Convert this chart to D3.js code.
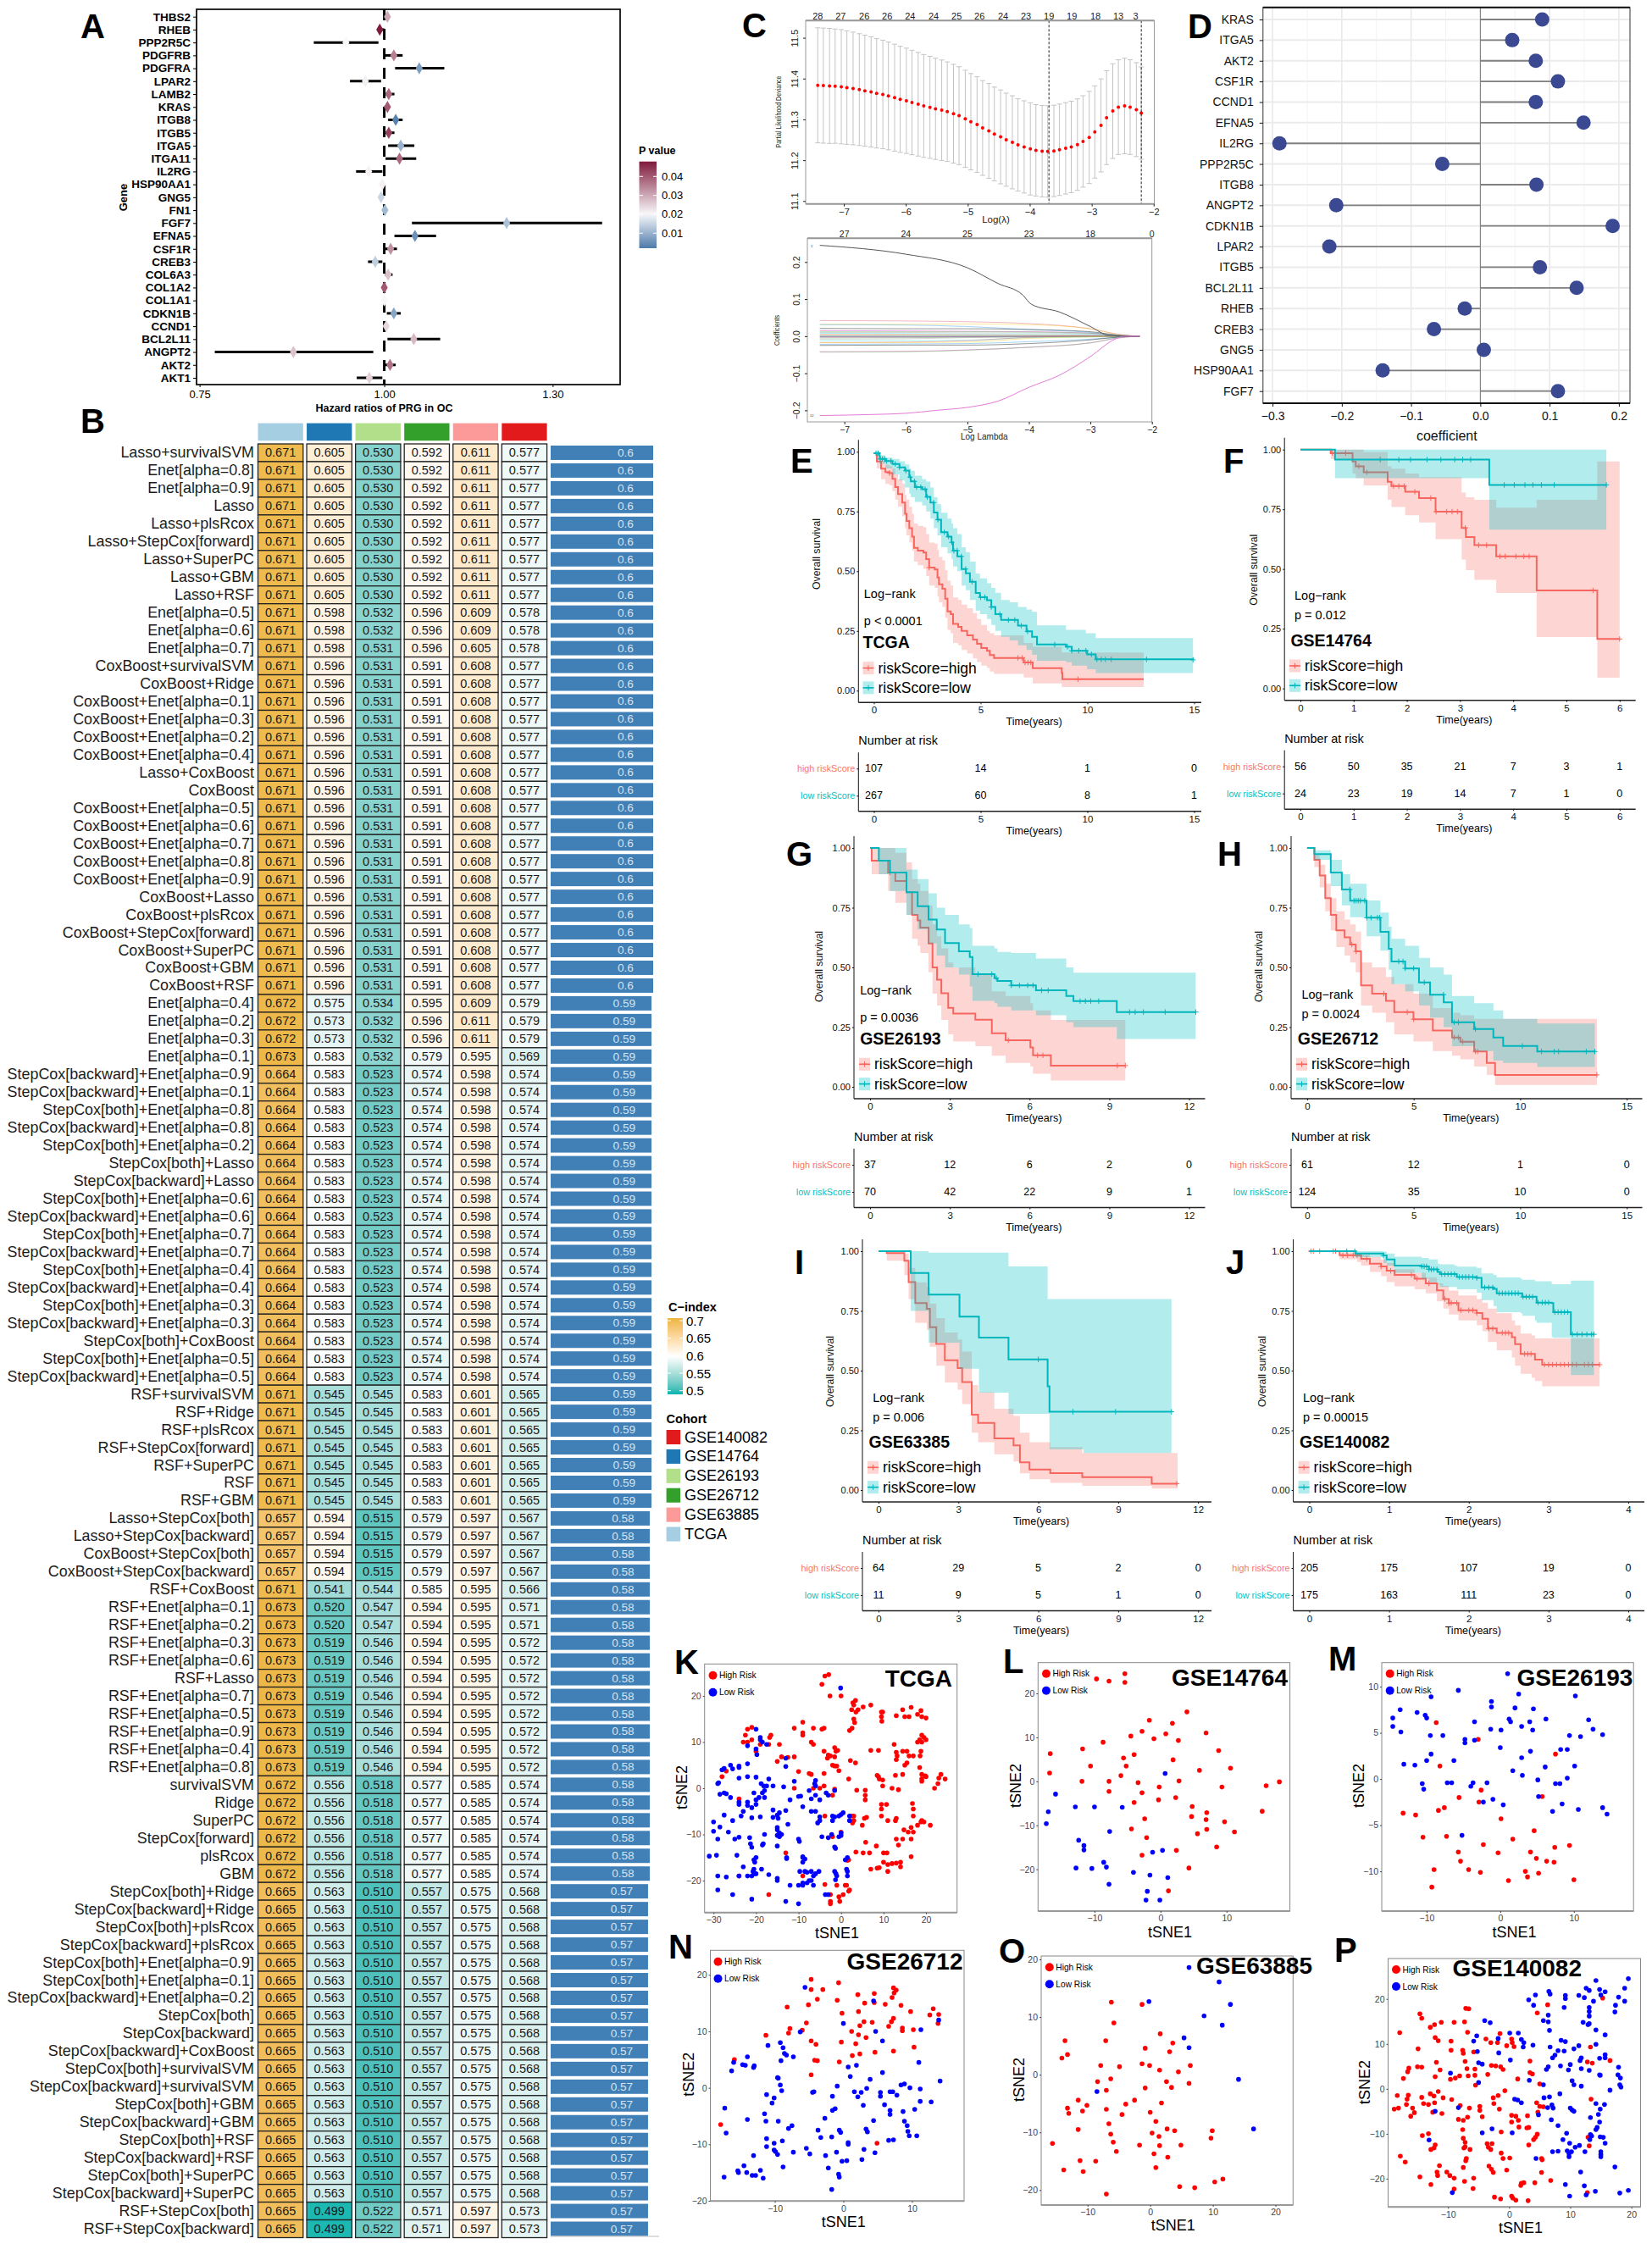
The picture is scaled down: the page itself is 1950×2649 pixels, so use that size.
<!DOCTYPE html>
<html>
<head>
<meta charset="utf-8">
<script src="https://cdn.jsdelivr.net/npm/d3@7"></script>
<style>body{margin:0;background:#fff}</style>
</head>
<body>
<svg id="fig" width="1950" height="2649"></svg>
<script>
// ---------- panel A ----------
const hrGenes = ["THBS2","RHEB","PPP2R5C","PDGFRB","PDGFRA","LPAR2","LAMB2","KRAS","ITGB8","ITGB5","ITGA5","ITGA11","IL2RG","HSP90AA1","GNG5","FN1","FGF7","EFNA5","CSF1R","CREB3","COL6A3","COL1A2","COL1A1","CDKN1B","CCND1","BCL2L11","ANGPT2","AKT2","AKT1"];
const hrMid = [1.005,.993,.942,1.015,1.056,.971,1.007,1.005,1.018,1.007,1.026,1.024,.976,.997,.995,1.001,1.21,1.049,1.01,.986,1.006,1.0,1.0,1.015,1.003,1.047,.868,1.009,.977];
const hrLow = [1.004,.99,.896,1.001,1.017,.948,1.001,1.0,1.006,1.001,1.006,1.002,.957,.996,.994,1.0,1.044,1.016,1.001,.975,1.001,.999,.999,1.004,1.002,1.005,.768,1.001,.958];
const hrHigh = [1.006,1.0,.991,1.029,1.098,.995,1.016,1.009,1.029,1.016,1.048,1.051,.997,.998,.996,1.002,1.404,1.084,1.02,.997,1.013,1.001,1.001,1.026,1.004,1.091,.983,1.018,.997];
const hrP = [.03,.048,.02,.035,.007,.019,.038,.04,.003,.043,.01,.038,.021,.021,.015,.011,.012,.005,.033,.014,.027,.04,.02,.008,.024,.028,.027,.037,.025];

// ---------- panel B ----------
const models = ["Lasso+survivalSVM","Enet[alpha=0.8]","Enet[alpha=0.9]","Lasso","Lasso+plsRcox","Lasso+StepCox[forward]","Lasso+SuperPC","Lasso+GBM","Lasso+RSF","Enet[alpha=0.5]","Enet[alpha=0.6]","Enet[alpha=0.7]","CoxBoost+survivalSVM","CoxBoost+Ridge","CoxBoost+Enet[alpha=0.1]","CoxBoost+Enet[alpha=0.3]","CoxBoost+Enet[alpha=0.2]","CoxBoost+Enet[alpha=0.4]","Lasso+CoxBoost","CoxBoost","CoxBoost+Enet[alpha=0.5]","CoxBoost+Enet[alpha=0.6]","CoxBoost+Enet[alpha=0.7]","CoxBoost+Enet[alpha=0.8]","CoxBoost+Enet[alpha=0.9]","CoxBoost+Lasso","CoxBoost+plsRcox","CoxBoost+StepCox[forward]","CoxBoost+SuperPC","CoxBoost+GBM","CoxBoost+RSF","Enet[alpha=0.4]","Enet[alpha=0.2]","Enet[alpha=0.3]","Enet[alpha=0.1]","StepCox[backward]+Enet[alpha=0.9]","StepCox[backward]+Enet[alpha=0.1]","StepCox[both]+Enet[alpha=0.8]","StepCox[backward]+Enet[alpha=0.8]","StepCox[both]+Enet[alpha=0.2]","StepCox[both]+Lasso","StepCox[backward]+Lasso","StepCox[both]+Enet[alpha=0.6]","StepCox[backward]+Enet[alpha=0.6]","StepCox[both]+Enet[alpha=0.7]","StepCox[backward]+Enet[alpha=0.7]","StepCox[both]+Enet[alpha=0.4]","StepCox[backward]+Enet[alpha=0.4]","StepCox[both]+Enet[alpha=0.3]","StepCox[backward]+Enet[alpha=0.3]","StepCox[both]+CoxBoost","StepCox[both]+Enet[alpha=0.5]","StepCox[backward]+Enet[alpha=0.5]","RSF+survivalSVM","RSF+Ridge","RSF+plsRcox","RSF+StepCox[forward]","RSF+SuperPC","RSF","RSF+GBM","Lasso+StepCox[both]","Lasso+StepCox[backward]","CoxBoost+StepCox[both]","CoxBoost+StepCox[backward]","RSF+CoxBoost","RSF+Enet[alpha=0.1]","RSF+Enet[alpha=0.2]","RSF+Enet[alpha=0.3]","RSF+Enet[alpha=0.6]","RSF+Lasso","RSF+Enet[alpha=0.7]","RSF+Enet[alpha=0.5]","RSF+Enet[alpha=0.9]","RSF+Enet[alpha=0.4]","RSF+Enet[alpha=0.8]","survivalSVM","Ridge","SuperPC","StepCox[forward]","plsRcox","GBM","StepCox[both]+Ridge","StepCox[backward]+Ridge","StepCox[both]+plsRcox","StepCox[backward]+plsRcox","StepCox[both]+Enet[alpha=0.9]","StepCox[both]+Enet[alpha=0.1]","StepCox[backward]+Enet[alpha=0.2]","StepCox[both]","StepCox[backward]","StepCox[backward]+CoxBoost","StepCox[both]+survivalSVM","StepCox[backward]+survivalSVM","StepCox[both]+GBM","StepCox[backward]+GBM","StepCox[both]+RSF","StepCox[backward]+RSF","StepCox[both]+SuperPC","StepCox[backward]+SuperPC","RSF+StepCox[both]","RSF+StepCox[backward]"];
// models come in tied blocks, rowsPerBlock says how many rows share the values
const rowsPerBlock = [9,2,1,19,1,2,1,18,7,4,1,2,8,6,18,2];
const cTCGA =  [.671,.671,.671,.671,.672,.672,.673,.664,.671,.657,.671,.673,.673,.672,.665,.665];
const c14764 = [.605,.598,.598,.596,.575,.573,.583,.583,.545,.594,.541,.520,.519,.556,.563,.499];
const c26193 = [.530,.532,.531,.531,.534,.532,.532,.523,.545,.515,.544,.547,.546,.518,.510,.522];
const c26712 = [.592,.596,.596,.591,.595,.596,.579,.574,.583,.579,.585,.594,.594,.577,.557,.571];
const c63885 = [.611,.609,.605,.608,.609,.611,.595,.598,.601,.597,.595,.595,.595,.585,.575,.597];
const c140082 =[.577,.578,.578,.577,.579,.579,.569,.574,.565,.567,.566,.571,.572,.574,.568,.573];
const cMean =  [.60,.60,.60,.60,.59,.59,.59,.59,.59,.58,.58,.58,.58,.58,.57,.57];
const heatCols = ["TCGA","GSE14764","GSE26193","GSE26712","GSE63885","GSE140082"];
const heatColors = ["#a6cee3","#1f78b4","#b2df8a","#33a02c","#fb9a99","#e31a1c"];
const cohortOrder = ["GSE140082","GSE14764","GSE26193","GSE26712","GSE63885","TCGA"];
const cLegendTicks = [.5,.55,.6,.65,.7];

// ---------- panel C ----------
const cvLambda = [-7.42,-7.33,-7.23,-7.14,-7.04,-6.95,-6.85,-6.75,-6.66,-6.56,-6.47,-6.37,-6.28,-6.18,-6.09,-5.99,-5.9,-5.8,-5.71,-5.61,-5.52,-5.42,-5.33,-5.23,-5.14,-5.04,-4.95,-4.85,-4.76,-4.66,-4.57,-4.47,-4.38,-4.28,-4.19,-4.09,-3.99,-3.9,-3.8,-3.71,-3.61,-3.52,-3.42,-3.33,-3.23,-3.14,-3.04,-2.95,-2.85,-2.76,-2.66,-2.57,-2.47,-2.38,-2.28,-2.2];
const cvMean = [11.3835,11.3828,11.3821,11.3814,11.38,11.3779,11.3758,11.373,11.3702,11.3674,11.3639,11.3611,11.3575,11.3533,11.3491,11.3456,11.3414,11.3372,11.333,11.3295,11.326,11.3225,11.3189,11.314,11.3091,11.3014,11.2944,11.2874,11.2789,11.2719,11.2642,11.2572,11.2502,11.2439,11.2375,11.2326,11.2277,11.2242,11.2221,11.2214,11.2228,11.2256,11.2291,11.2326,11.2382,11.246,11.2558,11.2691,11.2853,11.3042,11.3204,11.3302,11.333,11.3302,11.3239,11.3154];
const cvSd = [.141,.141,.141,.14,.14,.139,.138,.137,.136,.135,.134,.133,.132,.131,.13,.129,.128,.127,.126,.125,.124,.123,.122,.121,.12,.119,.118,.117,.116,.116,.115,.115,.114,.114,.113,.113,.113,.112,.112,.112,.112,.112,.112,.112,.112,.112,.113,.113,.114,.115,.116,.116,.117,.116,.115,.113];
const cvTopAt = [-7.42,-7.05,-6.67,-6.3,-5.93,-5.55,-5.18,-4.81,-4.43,-4.06,-3.69,-3.32,-2.94,-2.57,-2.29];
const cvTopN = [28,27,26,26,24,24,25,26,24,23,19,19,18,13,3];
const cvLines = [-3.69,-2.2];

const pathTopAt = [-7,-6,-5,-4,-3,-2];
const pathTopN = [27,24,25,23,18,0];
const bigPathLam = [-7.4,-6,-5,-4.5,-4.1,-3.96,-3.5,-3,-2.7,-2.4,-2.2];
const bigPathVal = [.245,.221,.1845,.142,.111,.086,.065,.026,.002,0,0];
const negPathLam = [-7.4,-6.5,-6,-5.5,-5,-4.5,-4,-3.5,-3,-2.6,-2.45,-2.2];
const negPathVal = [-.214,-.211,-.208,-.2,-.192,-.175,-.138,-.105,-.055,-.008,0,0];
const bundleLam = [-7.4,-6,-5,-4,-3,-2.5,-2.2];
const bundleVals = [
  [.042,.041,.039,.034,.02,.004,0],[.032,.032,.033,.031,.02,.003,0],[.031,.03,.026,.018,.01,.002,0],
  [.021,.02,.02,.018,.012,.002,0],[.015,.014,.013,.012,.008,.002,0],[.012,.012,.012,.011,.008,.002,0],
  [.01,.01,.009,.009,.006,.002,0],[.008,.007,.006,.006,.005,.001,0],[.005,.005,.004,.003,.002,.001,0],
  [.003,.003,.002,.002,.001,0,0],[.001,.001,.001,.001,0,0,0],[-.001,-.001,-.001,-.001,0,0,0],
  [-.003,-.003,-.002,-.001,-.001,0,0],[-.005,-.004,-.003,-.002,-.001,0,0],[-.008,-.007,-.004,-.002,-.001,0,0],
  [-.012,-.012,-.011,-.004,-.002,0,0],[-.017,-.016,-.012,-.003,0,0,0],[-.018,-.017,-.016,-.006,-.002,0,0],
  [-.022,-.021,-.02,-.015,-.008,-.002,0],[-.025,-.024,-.024,-.02,-.01,-.002,0],[-.042,-.041,-.037,-.03,-.018,-.004,0],
  [-.043,-.042,-.038,-.03,-.018,-.003,0]];
const rPalette = ["#000000","#df536b","#61d04f","#2297e6","#28e2e5","#cd0bbc","#f5c710","#9e9e9e"];

// ---------- panel D ----------
const coefGenes = ["KRAS","ITGA5","AKT2","CSF1R","CCND1","EFNA5","IL2RG","PPP2R5C","ITGB8","ANGPT2","CDKN1B","LPAR2","ITGB5","BCL2L11","RHEB","CREB3","GNG5","HSP90AA1","FGF7"];
const coefVals = [.0893,.046,.08,.112,.08,.149,-.29,-.055,.081,-.208,.191,-.218,.086,.139,-.0225,-.067,.005,-.141,.112];

// ---------- panels E-J, survival curves ----------
const eHighT = [0,.14,.34,.54,.73,.87,1,1.13,1.33,1.46,1.53,1.66,1.79,1.88,2.06,2.32,2.45,2.59,2.85,2.98,3.05,3.21,3.34,3.45,3.6,3.71,3.95,4.11,4.37,4.64,4.83,5.03,5.3,5.43,5.63,6.95,7.02,7.41,7.44,8.54,8.8,8.83,12.64];
const eHighS = [.994,.959,.929,.915,.911,.887,.852,.823,.787,.74,.71,.68,.645,.598,.586,.578,.551,.515,.507,.474,.445,.427,.385,.332,.32,.279,.267,.25,.232,.214,.196,.178,.167,.149,.137,.137,.118,.118,.094,.094,.075,.048,.048];
const eHighHi = [.994,.985,.96,.945,.94,.93,.905,.885,.865,.82,.8,.77,.74,.7,.69,.685,.655,.62,.615,.59,.56,.545,.505,.46,.44,.39,.38,.36,.345,.325,.3,.275,.25,.24,.232,.232,.2,.2,.184,.184,.16,.16,.16];
const eHighLo = [.99,.93,.885,.865,.86,.835,.8,.77,.73,.68,.65,.62,.585,.54,.525,.51,.48,.44,.43,.395,.37,.35,.305,.255,.24,.2,.19,.17,.155,.135,.12,.105,.095,.08,.07,.07,.055,.055,.03,.03,.015,.015,.015];
const eHighC = [.73,2.59,6.75,6.95,7.08,7.22,7.35,9.56];
const eLowT = [0,.27,.54,.87,1.2,1.46,1.66,1.73,1.92,2.26,2.45,2.65,2.81,2.98,3.15,3.45,3.64,3.71,3.91,4.11,4.31,4.5,4.77,4.97,5.3,5.5,5.69,5.96,6.36,6.75,7.15,7.41,7.64,8.47,9,9.27,9.93,9.99,10.39,14.95];
const eLowS = [.994,.97,.961,.949,.935,.921,.894,.876,.852,.843,.811,.787,.746,.716,.663,.645,.621,.586,.562,.509,.491,.456,.409,.391,.379,.35,.32,.296,.296,.272,.248,.225,.193,.193,.184,.167,.167,.152,.131,.129];
const eLowHi = [.994,.985,.975,.97,.96,.947,.93,.92,.9,.885,.875,.85,.81,.78,.745,.72,.7,.68,.655,.6,.58,.54,.49,.47,.45,.43,.41,.38,.37,.35,.34,.33,.273,.273,.255,.255,.24,.24,.22,.22];
const eLowLo = [.99,.95,.93,.905,.88,.85,.825,.81,.79,.775,.75,.72,.68,.65,.6,.575,.55,.52,.5,.44,.42,.38,.335,.32,.3,.275,.25,.225,.21,.19,.17,.15,.125,.125,.119,.105,.105,.09,.074,.074];
const eLowC = [.1,.2,.3,.4,.5,.6,.8,1,1.2,1.5,1.7,1.9,2,2.2,2.4,2.5,2.8,3,3.3,3.5,3.65,3.75,3.9,4.1,4.3,4.6,5,5.2,5.5,5.9,6.3,6.6,6.9,7.2,8.47,9.07,9.27,9.6,9.93,10.19,10.45,10.65,10.85,11.12,12.77,14.95];

const fHighT = [0,.57,.98,1.04,1.19,1.64,1.71,1.97,2.23,2.54,3.03,3.11,3.27,3.68,4.44,5.58,6];
const fHighS = [1,.985,.95,.93,.905,.865,.847,.823,.797,.74,.672,.634,.6,.553,.41,.207,.207];
const fHighHi = [1,1,1,1,.99,.93,.92,.9,.885,.885,.82,.8,.79,.757,.79,.95,.95];
const fHighLo = [1,.96,.9,.88,.85,.79,.76,.725,.695,.625,.54,.495,.455,.4,.215,.045,.045];
const fHighC = [.6,.85,1.1,1.25,1.75,1.85,1.95,2.15,2.45,2.55,2.75,2.85,2.95,3.1,3.35,3.5,3.75,3.85,4.05,4.2,4.3,5.5,6];
const fLowT = [0,.65,3.55,5.75];
const fLowS = [1,.958,.852,.852];
const fLowHi = [1,1,1,1];
const fLowLo = [1,.88,.665,.665];
const fLowC = [1.5,1.85,2.07,2.38,2.64,2.9,3.05,3.2,3.83,4.02,4.22,4.37,4.53,4.77,5.75];

const gHighT = [0,.06,.68,.95,1.37,1.58,1.79,1.89,2.2,2.35,2.52,2.68,2.94,3.13,3.96,4.58,5.1,6.03,6.13,6.8,9.6];
const gHighS = [1,.947,.897,.862,.815,.72,.697,.667,.6,.5,.449,.392,.331,.307,.281,.224,.195,.165,.132,.089,.089];
const gHighHi = [1,1,1,.98,.94,.87,.85,.82,.76,.68,.63,.58,.52,.5,.47,.4,.38,.35,.32,.28,.28];
const gHighLo = [1,.89,.82,.77,.72,.62,.59,.56,.48,.39,.34,.28,.22,.19,.17,.13,.1,.085,.055,.027,.027];
const gHighC = [.75,5.2,6.3,6.5,9.3,9.6];
const gLowT = [0,.33,.75,1.37,1.79,2.2,2.51,2.82,3.34,3.75,3.85,4.68,4.79,5.31,6.24,7.38,7.65,9.28,12.25];
const gLowS = [1,.947,.897,.815,.756,.7,.659,.602,.567,.543,.472,.455,.443,.425,.404,.38,.359,.313,.313];
const gLowHi = [1,1,1,.91,.87,.81,.75,.72,.68,.665,.59,.58,.565,.56,.537,.5,.478,.478,.478];
const gLowLo = [1,.89,.82,.72,.66,.6,.55,.5,.47,.42,.36,.35,.335,.32,.3,.27,.25,.2,.2];
const gLowC = [4.06,4.58,4.75,5.31,5.62,5.93,6.13,6.45,6.7,7.9,8.1,8.3,8.6,9.76,9.97,10.28,11.1,12.25];

const hHighT = [0,.34,.59,.85,1.11,1.37,1.76,2.02,2.28,2.53,3.05,3.7,4.09,4.99,5.9,6.8,7.19,7.84,8.43,8.82,13.6];
const hHighS = [1,.95,.885,.79,.72,.655,.626,.596,.567,.425,.39,.36,.313,.283,.236,.207,.189,.148,.1,.05,.05];
const hHighHi = [1,.97,.93,.85,.79,.735,.7,.68,.65,.52,.5,.46,.43,.39,.33,.31,.3,.285,.285,.285,.285];
const hHighLo = [1,.92,.835,.735,.655,.585,.55,.52,.48,.34,.31,.27,.22,.19,.15,.13,.115,.085,.05,.008,.008];
const hHighC = [2.1,2.3,3.6,4.7,5,6.9,7.1,7.3,7.9,8,13.6];
const hLowT = [0,.34,1.11,1.63,2.02,2.79,3.44,3.83,3.96,4.6,5.25,5.77,6.41,6.8,7.84,8.74,9.2,10.8,13.5];
const hLowS = [1,.974,.897,.826,.779,.708,.649,.578,.525,.496,.437,.386,.354,.27,.242,.207,.171,.148,.148];
const hLowHi = [1,.99,.95,.89,.85,.78,.73,.67,.62,.59,.54,.5,.47,.38,.35,.32,.285,.265,.265];
const hLowLo = [1,.95,.84,.76,.71,.63,.57,.49,.43,.4,.34,.29,.25,.17,.15,.11,.1,.083,.083];
const hLowC = [2,2.2,2.3,2.4,2.5,2.7,2.8,3,3.3,3.4,4.3,4.5,4.6,5,5.5,6.4,6.9,7.1,7.9,10.1,11,11.6,11.8,13.1,13.5];

const iHighT = [0,.31,.97,1.13,1.38,1.81,1.93,2.17,2.49,2.97,3.14,3.5,3.74,4.35,5.07,5.31,5.67,6.45,7.65,10.26,11.23];
const iHighS = [1,.992,.96,.871,.783,.759,.682,.612,.543,.511,.452,.316,.281,.216,.187,.116,.086,.071,.054,.027,.027];
const iHighHi = [1,1,.99,.93,.87,.85,.78,.72,.66,.63,.58,.44,.41,.34,.31,.24,.2,.18,.155,.155,.155];
const iHighLo = [1,.96,.9,.8,.7,.67,.6,.52,.45,.42,.36,.24,.2,.15,.12,.07,.045,.03,.018,.006,.006];
const iHighC = [11.2];
const iLowT = [0,1.21,1.88,3.04,3.77,4.88,6.35,6.42,7.7,11];
const iLowS = [1,.909,.818,.726,.638,.547,.434,.328,.328,.328];
const iLowHi = [1,1,.994,.994,.994,.936,.8,.8,.8,.8];
const iLowLo = [1,.75,.617,.508,.408,.319,.319,.17,.155,.137];
const iLowC = [6,7.3,8.9,11];

const jHighT = [0,.33,.38,.6,.65,.76,.9,.97,1.07,1.32,1.46,1.6,1.68,1.75,1.87,2.1,2.17,2.24,2.35,2.54,2.58,2.65,2.79,2.83,2.9,2.92,3.64];
const jHighS = [1,1,.983,.983,.968,.948,.936,.918,.901,.885,.865,.836,.8,.783,.753,.741,.717,.676,.658,.64,.611,.57,.57,.546,.546,.525,.525];
const jHighHi = [1,1,.995,.99,.985,.975,.965,.95,.925,.91,.89,.865,.855,.835,.815,.8,.785,.76,.74,.71,.69,.655,.647,.635,.635,.635,.635];
const jHighLo = [1,1,.966,.955,.94,.913,.895,.871,.853,.84,.824,.79,.76,.735,.71,.69,.665,.62,.585,.555,.52,.487,.47,.457,.457,.434,.434];
const jHighC = [.02,.05,.13,.3,.33,.42,.48,.55,.6,.72,.9,1.02,1.28,1.35,1.5,1.7,1.75,1.78,1.85,1.9,2,2.05,2.1,2.25,2.3,2.42,2.46,2.5,2.7,2.74,2.78,2.95,3,3.05,3.1,3.15,3.2,3.25,3.3,3.35,3.45,3.5,3.55,3.64];
const jLowT = [0,.47,.58,.93,.97,1.07,1.41,1.5,1.61,1.64,1.82,1.85,2.1,2.16,2.31,2.35,2.65,2.67,2.83,2.85,3.04,3.06,3.27,3.28,3.57];
const jLowS = [1,1,.99,.982,.965,.94,.936,.924,.913,.904,.904,.892,.888,.848,.842,.824,.824,.809,.809,.785,.783,.745,.745,.652,.652];
const jLowHi = [1,1,1,.998,.99,.977,.972,.965,.948,.945,.94,.935,.93,.907,.9,.89,.885,.88,.874,.874,.862,.862,.862,.877,.877];
const jLowLo = [1,1,.975,.95,.94,.91,.885,.87,.859,.85,.85,.84,.826,.795,.77,.745,.74,.73,.71,.7,.64,.637,.637,.481,.481];
const jLowC = [.47,.57,.93,1.41,1.44,1.47,1.5,1.53,1.56,1.6,1.66,1.7,1.74,1.78,1.82,1.88,1.92,1.96,2,2.05,2.1,2.2,2.25,2.3,2.38,2.42,2.46,2.5,2.54,2.58,2.62,2.68,2.72,2.76,2.8,2.87,2.92,2.96,3,3.08,3.12,3.16,3.2,3.24,3.3,3.36,3.42,3.48,3.54,3.57];

// number at risk
const eRiskHigh = [107,14,1,0], eRiskLow = [267,60,8,1];
const fRiskHigh = [56,50,35,21,7,3,1], fRiskLow = [24,23,19,14,7,1,0];
const gRiskHigh = [37,12,6,2,0], gRiskLow = [70,42,22,9,1];
const hRiskHigh = [61,12,1,0], hRiskLow = [124,35,10,0];
const iRiskHigh = [64,29,5,2,0], iRiskLow = [11,9,5,1,0];
const jRiskHigh = [205,175,107,19,0], jRiskLow = [175,163,111,23,0];
const survTicks = [0,.25,.5,.75,1];

// ---------- panels K-P, tSNE ----------
const kHigh = [[-3.8,24.3],[-2.9,24.6],[-4.5,22.5],[-2.6,20],[0,20],[2.8,18.5],[3.4,19],[3,18],[5.2,17.6],[7,18],[2.5,17],[3.5,16.5],[4,17],[3,15],[9.5,16.5],[9.8,16.5],[9.5,15.5],[9.6,14.5],[13,15.7],[14.5,17],[15,15.5],[16,15.5],[16.5,17.5],[18,16],[18.8,16.8],[19,15.5],[20,15.2],[3.2,14.2],[2.6,13],[2,12.5],[-11,13],[-9,14.3],[-9,12],[-9,11.5],[-6.5,13],[-4.5,12.8],[-4,13],[-22,12.8],[-21,13.2],[-22.5,11.5],[-22,10],[-21,10.5],[-23,10],[-16.5,11.5],[-16.8,11],[-19,9.5],[-17,9.5],[-14.5,9.5],[-7,10],[-6.5,9.5],[18.5,10.5],[19,11.5],[19.5,11],[19,10],[20,10.5],[18,10],[12.5,9.5],[-20,8],[-14,6.8],[-12.5,6.7],[-11,6.8],[-4,8],[-3,7.2],[-2.5,7],[-1.5,8.8],[-1.2,8],[-.8,8.2],[-1.5,6.8],[-3.2,6.5],[7,8.2],[8.8,8.2],[13,7.8],[14.5,8],[15.5,8],[18.8,8],[13.2,7],[16,7],[17,7],[18.6,7],[13,6.2],[15.5,5.5],[15,5],[2.2,6],[3.4,5.5],[-15,5.8],[-10,3.6],[-7.5,3.2],[-7,3],[-4,3.2],[-2,5],[-1.5,4.8],[-1,4.8],[-.5,3.8],[1.8,2],[8.5,2.8],[8.8,2.5],[9,2],[9.8,1.8],[12.8,2.8],[14.5,3],[18.5,4.5],[19,3],[19,2],[19,1.5],[19.8,2.7],[20,2.5],[23.5,3],[23,2.2],[24.5,2],[22.8,1],[22,0],[9.8,.5],[12,0],[13.5,-.3],[-28,2.5],[-27,3.7],[-11,0],[-6.5,0],[-5,0],[-4,.5],[-1.5,-.2],[3.7,-.4],[5.7,-.4],[5.7,-1.5],[5.7,-2.5],[-24,-2.3],[-2,-1.5],[9.5,-3.5],[9.5,-4.5],[10.7,-3.5],[16.8,-3.3],[17,-4.5],[9.5,-6],[11,-7],[13,-6.5],[12.8,-7],[17,-6],[19,-7],[18.8,-7.3],[19.5,-7.3],[18,-8],[16.5,-8.5],[21,-8],[14.8,-9],[15.8,-9.5],[17,-9.5],[16.5,-11],[13,-11],[14.5,-11],[3,-6],[3,-7],[5.5,-6.5],[6,-6.3],[5,-8],[2.7,-7.5],[2.5,-6],[-3.8,-6],[-2,-10.5],[0,-9.5],[5.8,-11.7],[8.3,-12.5],[13.5,-12.3],[3.5,-13.8],[5.2,-14],[6.7,-14],[10,-14],[10.8,-14],[16.5,-14.8],[1.5,-15.6],[7,-17.5],[8.5,-17.3],[9,-17.2],[10,-16],[11,-16.5],[11,-18],[12,-16.3],[13,-16.2],[14,-16],[14,-17],[-24,-19],[-9,-19],[-13,-14],[-3.8,-20.8],[-1,-21],[1,-21],[1.3,-21],[.5,-23],[1.8,-22.3],[2,-22],[-2.5,-23],[-2.5,-24.5],[-2.5,-25],[-.5,-23.5],[-.3,-24.5],[-17,-23],[1.8,-15.5]];
const kLow = [[-.1,21.7],[-20,12.8],[-19,11],[-18.5,10],[-19,10.5],[-17.5,9.5],[-22,9.2],[-20,8.5],[-19.8,7.3],[-22,5.3],[-24,2.2],[-24,4.8],[-26,5],[-27.5,4.3],[-28,4],[-25.5,4.2],[-24,4.5],[-13,6.5],[-13,4.7],[-17,2],[-22,2.5],[-20,2.4],[-11,1.5],[-29,1],[-28.8,1.2],[-18.8,1],[-18,-.5],[-18.2,.5],[-17.5,.5],[-16,.5],[-13.5,.3],[-28.5,-1.3],[-27.5,-1],[-27,-1.2],[-26,-2],[-24,-3],[-24,-3.5],[-22,-3],[-22,-3.7],[-20,-2.5],[-20,-3.5],[-19.3,-2],[-18,-2],[-18.5,-1],[-20.5,-1],[-12,-2.5],[-10,-1.8],[-9.5,-1.7],[-7,-2.3],[-6,-1.5],[-5,-2.5],[-3.5,-1],[-7.5,-.5],[-6,.5],[-6,1.7],[-6.2,1],[-1.5,-.5],[-3,-1.5],[-9,-4],[-27.5,-5.8],[-30,-7.3],[-25.5,-7],[-23.5,-6],[-23,-5],[-21,-6.4],[-21,-4.2],[-19,-6.2],[-16,-4.7],[-16,-6.3],[-15,-5.8],[-14.5,-5.3],[-14.8,-6.5],[-13,-4.8],[-12.5,-7.8],[-7,-5],[-6,-5],[-5.5,-7.5],[-5,-7],[-5,-6.2],[-2,-6],[-1.5,-6.2],[-.5,-6],[0,-5.7],[.5,-5.3],[2,-6],[2,-7],[-2,-7],[-30,-9.3],[-28.5,-8.4],[-26.5,-9.5],[-24,-10.6],[-21.5,-10.7],[-18,-10],[-15,-8.5],[-15,-9],[-14.5,-9.7],[-14.5,-10.5],[-14,-10],[-15,-10.2],[-10,-11],[-9.8,-11.5],[-4.5,-10.5],[-3,-10.7],[-2.2,-10],[0,-9.7],[0,-10.2],[-.5,-10.5],[-29,-11],[-25,-11],[-21.3,-12],[-21,-12.8],[-18.5,-12.3],[-18.3,-12],[-15,-12.5],[-12.8,-15],[-12.8,-15.2],[-1.5,-12.7],[-1.3,-13],[1.5,-15],[1,-15.5],[-31,-14.7],[-29.3,-14.5],[-24.5,-14.5],[-20,-15],[-20.5,-15.5],[-20.3,-16],[-23,-17],[-20.5,-17.5],[-18.7,-17.5],[-9,-14.8],[-9,-15],[-8.5,-15.3],[-9,-16],[-29,-19],[-27,-19.2],[-24,-19],[-22,-19],[-21,-19],[-20.5,-18.5],[-20.7,-18],[-20,-18.5],[-17,-18.7],[-15,-19.5],[-15,-20],[-9.7,-18],[-8.5,-18],[-8,-18.2],[-7,-18],[-6,-18.5],[-6.5,-19],[-5.2,-18],[-1.5,-18],[-1.2,-18.5],[-1,-19],[-1.3,-19.8],[1.3,-17.5],[1.5,-18],[1.5,-19],[-29,-22],[-25.5,-23],[-21,-24],[-13,-24.5],[-10,-25],[-12,-21],[-10,-21],[-9,-21],[-9,-20.5],[-8,-20.5],[-7.5,-20],[-7,-20],[-6.5,-21],[-3.7,-23],[-3,-23]];
const lHigh = [[-9.7,23.3],[-7.8,22.8],[-5.4,24.5],[-5.4,22.5],[4,15.8],[-1.7,13.9],[1.8,13.2],[-2.8,11.4],[-4.5,10.3],[.8,10.8],[6.9,11],[-1,9.7],[2.7,9.3],[-8.7,8.9],[-11.8,7.4],[-16.7,6.3],[8.8,7],[-4,6.1],[-5.6,5.3],[1.9,4.9],[-5.2,3.5],[-10.6,3.5],[10.6,3],[5.9,2.5],[-16.8,1.9],[-6,1.3],[-11.9,0],[-7.8,0],[2.8,.1],[-3.4,-.3],[18,-.1],[16,-1],[9.3,-1.3],[-.2,-1.3],[-7.8,-2.3],[-2.8,-2.6],[2.3,-3.7],[-.3,-4.2],[-4,-4.8],[4.8,-5.7],[7,-7.1],[4.7,-8],[15.4,-6.8],[-2.4,-8.5],[6.9,-8.7],[9.7,-9.2],[-4.4,-10.8],[7,-10.9],[5.6,-11.9],[11.2,-11.5],[-2.1,-12.8],[8.5,-14.9],[2.4,-15.7],[-2.8,-16.8],[4.3,-19.7],[1.2,-24.9]];
const lLow = [[.7,1.8],[-15.9,-2.9],[-17,-6.9],[-17.3,-9.6],[-12.9,-5.8],[-10,-5.8],[-5.8,-5.9],[-7.7,-11.4],[-12.4,-13.4],[-11.6,-14.6],[-11.6,-15.6],[-1.2,-16.1],[.3,-15.7],[-8.6,-18.4],[-8.2,-19.5],[-12.8,-19.7],[-10.4,-19.8],[-4.1,-20.7],[-1.6,-21.3],[1.1,-21.9],[-7.8,-23.4],[-2,-25],[-2.2,-27],[-.1,-27]];
const mHigh = [[-8.7,6.1],[-3,4.3],[7.5,2.7],[-8.2,1.4],[-2.6,-1.2],[-5.6,-2],[5.7,-1.9],[-2.9,-2.5],[-7.6,-3.1],[-8.4,-3.4],[-13.2,-3.7],[-11.5,-3.9],[.1,-4.3],[4.6,-5.6],[-10.5,-6.3],[-7.3,-6.2],[1.7,-6.5],[-2.3,-7.1],[9.4,-7.2],[7.4,-7.4],[-5.7,-7.9],[-.3,-8],[4.1,-7.9],[4.9,-8.6],[6.3,-8.9],[7.3,-9],[-5.4,-8.9],[-9,-9.8],[-4.3,-9.8],[-2.7,-10.1],[3.4,-10],[5.2,-10.2],[3.7,-10.6],[10,-10.9],[1.1,-11],[-9.3,-11.7]];
const mLow = [[1,11.4],[-5.7,9.6],[-9.4,8.9],[2.5,9.2],[10.2,9],[-1.2,8.4],[-1.2,7.8],[2,7.7],[4.5,7.6],[-13.6,7.5],[-14.6,6.6],[-11.3,7.2],[-10.2,6.9],[-10,6.6],[-3.5,6.2],[1.2,6.5],[1.4,6.2],[4,6.2],[6.2,6.5],[12,6.4],[-14.6,5.7],[-13.5,5.1],[-9.5,4.7],[-7.8,4.7],[-1.3,5.4],[.1,5.3],[2.9,5.7],[4.4,5.3],[12.6,5.4],[13.9,4.8],[9.4,4.7],[10.9,4.6],[-4.8,4.3],[-4.8,3.9],[-3.5,4.2],[0,3.4],[4.1,3],[8.2,3.2],[9.1,3.2],[-9.4,2.7],[-10,2],[-6.3,2],[2.9,2.3],[-13.1,1.6],[-11.6,1.5],[6.1,1.3],[10.1,1.4],[1.7,.9],[3,.4],[5.1,-.1],[9.1,.1],[7.5,-.5],[8.1,-.5],[-10.6,-.5],[-10.4,-1.1],[-7.2,-.4],[-6.6,-.4],[-3.7,-.4],[-4,-.8],[-1.8,-.4],[-1,-2.2],[-2.3,-2.5],[.4,-2.8],[5.2,-1.9],[8.4,-2.7],[7.1,-3.5],[13.9,-3.1],[10.6,-3.3],[14.5,-3.8],[-5.2,-6.1]];
const nHigh = [[-4.7,19.2],[-.7,18.6],[-4.7,17.4],[-3,17.4],[7.3,17.7],[7.7,17.3],[7.4,16.8],[2.1,16.5],[4.5,16.7],[7.1,16],[-3.8,15.7],[-.9,15.5],[4.5,15.1],[3.1,15],[-5.1,14.7],[-8.2,14.3],[6.1,14.8],[8.4,14.6],[13.1,14],[-.2,13.2],[2.2,13.5],[9.8,13.5],[12.6,12.9],[13.9,13],[7.3,12.3],[7,11.7],[-5.4,11.5],[3,11.7],[4.2,11.6],[2.4,11],[6.6,10.9],[-7.8,10.5],[8.6,10.6],[10.2,10.3],[8.6,10.1],[-6,10.2],[1.2,10],[-8,9.7],[2.2,9.4],[-11.3,9.3],[3.3,8.9],[13.8,11.4],[-4.7,8.3],[-.3,8.1],[1.8,7.8],[-4,7.7],[10.3,7.2],[7.3,6.5],[4.6,6.3],[2.4,6],[1.3,5.7],[-15.9,5],[-4.2,4.9],[-3.8,4.8],[-.6,4.6],[-4.7,2.3],[-17.9,-6.5],[4.9,-9.8]];
const nLow = [[-5.6,17.8],[4.4,15.4],[13.9,12],[0,11.4],[11.3,10.3],[-6.3,9.9],[4.7,10],[5.7,8.3],[-11,7.5],[-9.2,8],[-8.8,7.1],[-8.6,6.1],[-8.3,5.8],[-7.3,5.5],[-9.1,4.8],[-14,5.5],[-16,4.5],[-14.7,4.1],[-14.3,4],[-13,3.9],[-13.1,3.6],[-16.3,3],[11,4.5],[.7,3.7],[1.9,4],[5.7,2.7],[1,2],[3.9,1.5],[14.1,1.2],[-9.6,1.8],[-9.5,1.7],[-9.2,.5],[-9,-.5],[-.9,.3],[8.4,.5],[8.9,.7],[9.7,0],[11.2,-.2],[-4.3,-.7],[-4.5,-.8],[1.6,-.7],[2.6,-.8],[3.4,-.1],[5.4,-.8],[5.4,-1.5],[6.8,-.7],[7.2,-.7],[7.8,-1.3],[-1.6,-1.5],[2.1,-1.6],[-11.2,-1.2],[-10.1,-1.8],[-10.4,-2.7],[11.2,-2.4],[12.8,-2.5],[2.9,-3.1],[6,-3],[-17.3,-3.6],[-1.2,-3.7],[-1.6,-4],[10.4,-3.8],[8.7,-4.2],[6.8,-4],[6.8,-4.7],[-11.5,-4.6],[-2.7,-5.4],[-14,-5.6],[-11.3,-5.9],[-9.5,-5.9],[4.4,-5.8],[8.9,-5.9],[9.3,-6.7],[-7.5,-6.7],[-8,-7.2],[-3.7,-7.5],[-.6,-7.5],[-.4,-7.9],[3.3,-7.3],[3.5,-7.8],[-17.1,-8],[9.4,-7.7],[9.6,-8.5],[10.7,-8.5],[-3.3,-8.8],[-1.7,-8.7],[-11.2,-9],[6.6,-9.3],[7.3,-9.2],[-8.9,-9.4],[-10.1,-9.8],[.7,-9.7],[.7,-10],[-11.2,-10.4],[-5.4,-10.7],[-10.1,-11],[-9.9,-11.3],[-7.3,-11.4],[-4.9,-11.7],[-1,-11.4],[3,-10.9],[4.6,-11.5],[-13.1,-12],[-2.6,-12],[-9.6,-11.8],[-14.5,-13.8],[-8.8,-14],[-2.2,-14.2],[-15.4,-14.7],[-15.3,-15],[-14.1,-15],[-13.3,-15.5],[-12.8,-15.5],[-12.1,-14.6],[-11.7,-16],[-17.4,-15.8],[-.7,-15.3],[-.6,-15.8],[.5,-12.9],[-.2,-13],[2.7,-12.7],[-1.7,-18]];
const oHigh = [[-6.2,12.6],[-1.3,12.2],[-5.8,9],[1.6,7.1],[-13.6,5.9],[-7.1,5.9],[3.6,5.5],[-.8,4.6],[3.1,4],[-13.2,3.5],[-14.1,2.9],[-7.9,1.6],[-4.9,1.4],[-1.3,1.9],[-.1,1.6],[6.4,1.6],[1.5,.8],[4.5,.5],[-6.3,-.7],[-8.4,-1.2],[2.6,-1.2],[6.2,-1.5],[-.8,-2.3],[3.4,-2.2],[-7,-2.7],[-11.5,-4.4],[-2.5,-4.4],[-3.9,-5.1],[-10.1,-5.3],[1.8,-4.9],[-13.2,-5.8],[-7,-6],[-10.8,-6.3],[-13,-6.7],[-4.5,-6.9],[0,-6.5],[.9,-8.1],[-6.6,-8.5],[2.7,-9.4],[-11.5,-9.5],[3.9,-9.7],[9.9,-9.7],[.3,-10.1],[-6.3,-10.3],[1.4,-10.7],[9.7,-11],[-5.9,-11.7],[-15.6,-11.9],[-1.7,-12.2],[1.5,-12.3],[4.9,-12.2],[-5.4,-13.3],[.6,-13.7],[2.8,-14.3],[-11.2,-14.9],[-8.7,-15],[.9,-16.1],[-13.8,-16.5],[-10.7,-16.8],[10.3,-18.6],[11.6,-18.1],[4.7,-19.4],[7.1,-19.6],[-7,-20.7]];
const oLow = [[6.2,18.6],[11,16.1],[-.2,12.7],[12.8,12.2],[8.6,10.2],[11.5,8.6],[5.4,6.4],[6.2,4.7],[14.1,-.8],[-8.5,-2.9],[16.5,-9.4]];
const pHigh = [[15.3,20.2],[6.3,18.7],[4.6,16.9],[-7.1,17.9],[-6.6,17.8],[-14.6,16.7],[-14.3,15.7],[-11.1,14.8],[-9,14.8],[-7.3,14.9],[-12.2,14.3],[-12.9,13.7],[-17.9,12.5],[-6.8,12.6],[-12.1,11.4],[-11.6,10.7],[-9.5,10.6],[-3.8,11.1],[-1.5,12.3],[.4,11.1],[-1.9,10.3],[-3,10.3],[.5,10.3],[-.4,9.6],[.8,9.4],[-14.9,8.9],[13.3,9.3],[-7.6,8.6],[-7.5,7.9],[-5.8,8.2],[-9.5,8.6],[16.5,6.3],[-11.9,5.9],[-7.2,6.1],[-15,4.9],[-14.3,4.8],[-16.4,4.6],[-16.6,3.8],[-17.3,2.3],[-11.3,4.2],[-6.9,4.5],[-5.6,4.4],[-2.9,5.2],[-2.2,5.1],[-1.4,4.9],[-1,4.3],[3.4,6.2],[12.8,6],[13.6,5.7],[3.4,3.6],[3.8,3.3],[-3.5,3.2],[-6.7,2.9],[-5.6,3],[-8.1,2.9],[-12.1,2.7],[-8.8,2.4],[-9.6,2.1],[1.4,2.2],[5,1.1],[-5.5,.8],[-.7,-.4],[-11.6,-.6],[-12.9,-1.1],[-18.3,-1.5],[-16.5,-1.4],[-14.3,-1.9],[-12.3,-1.6],[-10.8,-2],[-9.4,-2.4],[-1.8,-1.5],[-2.6,-2],[-16.7,-2.3],[-16.8,-3.5],[-14,-3.3],[-13.2,-3.5],[-12.2,-3.1],[-2.5,-3.3],[4.5,-3.1],[5,-3.9],[5.6,-4],[13.4,-2.3],[-18.8,-4.5],[-18.1,-4.3],[-15.8,-4.3],[-15.5,-5.3],[-16.1,-6.1],[-12.5,-5.2],[-11,-5.5],[-8,-3.7],[-6.5,-4.3],[-4.8,-3.9],[-4.8,-4.8],[-1.6,-4.5],[4.7,-5.2],[-6.8,-6.3],[-4.4,-6.2],[-8.3,-6.8],[-7.5,-7],[.4,-5.9],[1.1,-6.1],[3,-6],[.4,-7.4],[1.5,-7],[-7.6,-9.1],[1.6,-8.5],[2.9,-8.7],[3.2,-8.6],[-1.3,-9.6],[4.6,-10.1],[-14.2,-10.4],[-13.2,-10],[-7.5,-11],[4.3,-10.8],[4,-11.3],[12.9,-10.8],[-7.2,-11.9],[-12.1,-12.5],[-7.2,-12.9],[-3.6,-12.2],[-2.8,-12.2],[3.2,-12.5],[-12.3,-13.2],[-12.8,-13.5],[-7.4,-13.2],[-6.4,-13.5],[-3.4,-13],[-3,-13.5],[13.1,-12.7],[-1.3,-14.3],[-17.8,-15],[-17,-16.3],[-7,-15.5],[-7.1,-16],[-1,-15.5],[.1,-15.4],[5.3,-15.5],[5.4,-15.8],[-11.4,-17.1],[-3.3,-17.2],[-7.5,-17.5],[-.4,-18.1],[-2.9,-17.9],[-2.6,-18.6],[5.3,-18.6],[-11.8,-18.5],[-10.2,-18.5],[-11.7,-19.3],[-14.6,-19.6],[-9.7,-19.3],[-9,-19.9],[-5.8,-19.9],[-7.3,-20.6],[6.8,-20.4],[-12.8,-21.3],[2,-21],[2.4,-20.9],[1.9,-21.5],[4.2,-20.9],[-9,-22.3],[-5.9,-22.2],[12.8,-23.1],[-2.4,-24.1],[-1.4,-24.5],[.4,-23.9],[.6,-24.3],[1.1,-24.8],[3.1,-24.9]];
const pLow = [[19.5,24.5],[14.2,24.1],[12.6,22.4],[13.1,21.9],[14.8,22.1],[15.7,21.6],[18.9,22.4],[15,20.9],[11.4,20.8],[17.9,20.4],[9.2,20.8],[6.5,21.7],[6.7,21.1],[4.3,20.9],[3.2,19.8],[4,18.6],[9.2,20.1],[13.8,19.5],[12.3,20.3],[18.9,19.5],[17.4,18.6],[17.3,17.1],[9,18.1],[13.1,18.1],[13.1,17.2],[13.1,16.2],[6.4,16.4],[5.6,15.2],[6.4,14.9],[12.1,14.8],[12.9,14.3],[13.1,14.5],[-4,15.2],[-3.1,14.7],[6.6,13],[14.2,13.1],[15.7,12],[.1,12.4],[1.5,12.4],[-5.3,11.8],[-1.8,11.2],[2,11],[2.4,10.3],[-5.8,10.6],[8.5,10.8],[9.2,10.5],[3.9,9.7],[2.3,9.3],[6.7,9.3],[14.2,9.9],[11.4,9.6],[8,8.5],[9,8.4],[10.6,8.9],[-5.2,8.3],[-1.7,8],[7.5,7.5],[7.1,6.9],[15.7,7.6],[11.8,6.9],[11.6,6.3],[15.7,6.9],[14.8,6.8],[.2,6.4],[-5,5.8],[-4.4,5.5],[6.4,4.9],[8.4,5.1],[10,5.4],[17.9,4.8],[6.1,4.3],[9.7,4.2],[11.8,4.5],[13.1,4.1],[14.8,3.1],[14.9,3],[17.8,3.1],[18.2,2.4],[-9.6,3.5],[10.3,1.8],[10.6,.9],[11.8,.6],[3.3,1.9],[-5,1.4],[5.6,.9],[18.1,.9],[18.3,.4],[16.5,-.3],[8.3,-1.1],[6.6,-1.8],[5.7,-2],[.9,-2.3],[1.4,-2.5],[2,-3.1],[14.2,-3.3],[15.6,-3.5],[7,-3.6],[6.3,-4.2],[7.2,-4.3],[10,-4.3],[14.9,-4.5],[10.3,-4.7],[10.6,-5],[-12.1,-5],[-8.3,-4.2],[4.8,-5.8],[14.6,-5.7],[13.3,-6.4],[6.9,-6.9],[14.8,-7.4],[8,-8.2],[14.4,-8.6],[14.2,-9.1],[-2.8,-8.9],[9.4,-9.9],[-4.4,-9.8],[.5,-9.8],[13.3,-10.2],[13.5,-10.5],[14.9,-10.7],[15.4,-10.8],[13.2,-11.3],[8.8,-11.3],[9.9,-12.1],[-13.1,-11.4],[15.7,-12.1],[11.5,-12.6],[10.8,-13],[7.1,-14],[8,-13.9],[9.5,-13.8],[10.2,-14],[9.8,-14.4],[12.4,-14],[15,-14],[15,-14.6],[15,-15.1],[9.8,-15.1],[4.4,-15.5],[17.3,-17.4],[11.7,-18.5],[9.2,-21.3],[12.3,-21.6],[14.1,-22.8],[-9.3,-23.1],[9.9,-23.9],[12.6,-23.6],[18.1,-23.2],[19.5,-22.6]];

// ---------- drawing ----------
var svg = d3.select('#fig').attr('font-family', '"Liberation Sans", Arial, sans-serif');
var defs = svg.append('defs');
var FONT = '"Liberation Sans", Arial, sans-serif';

function txt(parent, x, y, s, size, opt) {
  opt = opt || {};
  var t = parent.append('text')
    .attr('x', x).attr('y', y)
    .attr('font-size', size)
    .attr('text-anchor', opt.anchor || 'start')
    .attr('fill', opt.fill || '#000')
    .attr('font-weight', opt.weight || 'normal')
    .attr('dominant-baseline', opt.base || 'central')
    .text(s);
  if (opt.rotate) t.attr('transform', `rotate(${opt.rotate},${x},${y})`);
  return t;
}

function styleAxis(g, size, color, weight) {
  g.attr('font-family', FONT).attr('font-size', size);
  g.selectAll('text').attr('fill', color || '#000').attr('font-weight', weight || 'normal');
  g.selectAll('line').attr('stroke', color || '#000');
  return g;
}

function gradient(id, color, lo, hi) {
  var grad = defs.append('linearGradient').attr('id', id)
    .attr('x1', 0).attr('x2', 0).attr('y1', 1).attr('y2', 0);
  d3.range(0, 1.001, .05).forEach(f => {
    grad.append('stop').attr('offset', f).attr('stop-color', color(lo + (hi - lo) * f));
  });
}

// panel letters
const panelLetters = ["A","B","C","D","E","F","G","H","I","J","K","L","M","N","O","P"];
const letterX = [95,95,876,1402,933,1444,928,1437,938,1447,796,1184,1568,789,1179,1575];
const letterY = [45,511,44,45,558,558,1022,1022,1504,1504,1976,1975,1972,2312,2317,2316];
panelLetters.forEach((l, i) => txt(svg, letterX[i], letterY[i], l, 40, {weight: 'bold', base: 'auto'}));

// --- A: hazard ratios ---
(function () {
  var g = svg.append('g');
  var x = d3.scaleLog().domain([.75, 1.3]).range([235.6, 652.4]);
  var y = d3.scalePoint().domain(hrGenes).range([19.7, 446]);
  var pColor = d3.scaleLinear().domain([.002, .02, .048]).range(['#4f7cab', '#f8f8fa', '#801a3c']);

  g.append('line').attr('x1', x(1)).attr('x2', x(1)).attr('y1', 11).attr('y2', 454)
    .attr('stroke', '#000').attr('stroke-width', 3).attr('stroke-dasharray', '13,10');
  g.selectAll('.ci').data(hrGenes).enter().append('line')
    .attr('x1', (d, i) => x(hrLow[i])).attr('x2', (d, i) => x(hrHigh[i]))
    .attr('y1', d => y(d)).attr('y2', d => y(d))
    .attr('stroke', '#000').attr('stroke-width', 3);
  g.selectAll('.mid').data(hrGenes).enter().append('path')
    .attr('d', d3.symbol(d3.symbolDiamond, 60))
    .attr('transform', (d, i) => `translate(${x(hrMid[i])},${y(d)})`)
    .attr('fill', (d, i) => pColor(hrP[i]));
  g.append('rect').attr('x', 232).attr('y', 11).attr('width', 500).attr('height', 443)
    .attr('fill', 'none').attr('stroke', '#111').attr('stroke-width', 1.8);

  var ax = g.append('g').attr('transform', 'translate(232,0)')
    .call(d3.axisLeft(y).tickSize(4).tickPadding(3));
  ax.select('.domain').remove();
  styleAxis(ax, 13.5, '#000', 'bold');
  var bx = g.append('g').attr('transform', 'translate(0,454)')
    .call(d3.axisBottom(x).tickValues([.75, 1, 1.3]).tickFormat(d3.format('.2f')).tickSize(3).tickPadding(4));
  bx.select('.domain').remove();
  styleAxis(bx, 13);
  txt(g, 145, 233, 'Gene', 13, {weight: 'bold', anchor: 'middle', rotate: -90});
  txt(g, 453.5, 482, 'Hazard ratios of PRG in OC', 12.5, {weight: 'bold', anchor: 'middle'});

  // p value colorbar
  gradient('pbar', pColor, .0018, .048);
  var py = d3.scaleLinear().domain([.01, .04]).range([275.3, 208.3]);
  txt(g, 754, 178, 'P value', 12.5, {weight: 'bold'});
  g.append('rect').attr('x', 754.5).attr('y', 190.7).attr('width', 20.5).attr('height', 102.3).attr('fill', 'url(#pbar)');
  [.01, .02, .03, .04].forEach(v => {
    g.append('line').attr('x1', 754.5).attr('x2', 759).attr('y1', py(v)).attr('y2', py(v)).attr('stroke', '#fff');
    g.append('line').attr('x1', 771).attr('x2', 775).attr('y1', py(v)).attr('y2', py(v)).attr('stroke', '#fff');
    txt(g, 781, py(v), v.toFixed(2), 13);
  });
})();

// --- B: C-index heatmap ---
(function () {
  var g = svg.append('g');
  var expand = vals => vals.flatMap((v, i) => d3.range(rowsPerBlock[i]).map(() => v));
  var cols = [cTCGA, c14764, c26193, c26712, c63885, c140082].map(expand);
  var means = expand(cMean);
  var x = d3.scaleBand().domain(heatCols).range([304.5, 645.6]).paddingInner(.074);
  var y = d3.scaleBand().domain(models).range([524, 2641.5]);
  var color = d3.scaleLinear().domain([.499, .585, .673]).range(['#1CB8B2', '#FFFFFF', '#EEB849']).interpolate(d3.interpolateLab).clamp(false);
  var barX = d3.scaleLinear().domain([0, .6]).range([650, 771]);

  g.selectAll('.head').data(heatCols).enter().append('rect')
    .attr('x', d => x(d)).attr('y', 499.6).attr('width', x.bandwidth()).attr('height', 20.6)
    .attr('fill', (d, i) => heatColors[i]);

  models.forEach((m, r) => {
    txt(g, 300, y(m) + y.bandwidth() / 2, m, 17.9, {anchor: 'end', fill: '#1c1c1c'});
    heatCols.forEach((c, k) => {
      var v = cols[k][r];
      g.append('rect').attr('x', x(c)).attr('y', y(m)).attr('width', x.bandwidth()).attr('height', y.bandwidth())
        .attr('fill', color(v)).attr('stroke', '#222').attr('stroke-width', 1.3);
      txt(g, x(c) + x.bandwidth() / 2, y(m) + y.bandwidth() / 2, v.toFixed(3), 14.5, {anchor: 'middle', fill: '#1a1a1a'});
    });
    g.append('rect').attr('x', barX(0)).attr('y', y(m) + 2).attr('width', barX(means[r]) - barX(0)).attr('height', y.bandwidth() - 4)
      .attr('fill', '#4180b6');
    txt(g, barX(0) + (barX(means[r]) - barX(0)) * .73, y(m) + y.bandwidth() / 2, String(+means[r].toFixed(2)), 13.6, {anchor: 'middle', fill: '#d4e3ef'});
  });
  g.append('line').attr('x1', 650).attr('x2', 778).attr('y1', 2640).attr('y2', 2640).attr('stroke', '#bbb');

  // C-index legend
  var legColor = d3.scaleLinear().domain([.5, .6, .7]).range(['#1CB8B2', '#FFFFFF', '#EEB849']).interpolate(d3.interpolateLab);
  gradient('cbar', legColor, .495, .705);
  var ly = d3.scaleLinear().domain([.5, .7]).range([1641.7, 1559]);
  txt(g, 789, 1543, 'C\u2212index', 14.5, {weight: 'bold'});
  g.append('rect').attr('x', 788).attr('y', 1556).attr('width', 18).attr('height', 90).attr('fill', 'url(#cbar)');
  cLegendTicks.forEach(v => {
    g.append('line').attr('x1', 788).attr('x2', 792).attr('y1', ly(v)).attr('y2', ly(v)).attr('stroke', '#fff');
    g.append('line').attr('x1', 802).attr('x2', 806).attr('y1', ly(v)).attr('y2', ly(v)).attr('stroke', '#fff');
    txt(g, 810, ly(v), String(v), 15);
  });
  txt(g, 786.6, 1675, 'Cohort', 14.5, {weight: 'bold'});
  var cy = d3.scalePoint().domain(cohortOrder).range([1696.5, 1811]);
  cohortOrder.forEach(c => {
    g.append('rect').attr('x', 786.6).attr('y', cy(c) - 8.5).attr('width', 16.5).attr('height', 17)
      .attr('fill', heatColors[heatCols.indexOf(c)]);
    txt(g, 808, cy(c), c, 18);
  });
})();

// --- C: lasso ---
(function () {
  var g = svg.append('g');
  var x = d3.scaleLinear().domain([-7, -2]).range([996, 1361.8]);
  var y = d3.scaleLinear().domain([11.1, 11.5]).range([237.3, 44.6]);

  cvLambda.forEach((l, i) => {
    var hi = y(cvMean[i] + cvSd[i]), lo = y(cvMean[i] - cvSd[i]);
    g.append('line').attr('x1', x(l)).attr('x2', x(l)).attr('y1', hi).attr('y2', lo).attr('stroke', '#c4c4c4');
    g.append('line').attr('x1', x(l) - 3).attr('x2', x(l) + 3).attr('y1', hi).attr('y2', hi).attr('stroke', '#c4c4c4');
    g.append('line').attr('x1', x(l) - 3).attr('x2', x(l) + 3).attr('y1', lo).attr('y2', lo).attr('stroke', '#c4c4c4');
  });
  g.selectAll('.cv').data(cvLambda).enter().append('circle')
    .attr('cx', d => x(d)).attr('cy', (d, i) => y(cvMean[i])).attr('r', 2).attr('fill', '#f00');
  cvLines.forEach(l => {
    g.append('line').attr('x1', x(l)).attr('x2', x(l)).attr('y1', 24.3).attr('y2', 240.7)
      .attr('stroke', '#222').attr('stroke-dasharray', '3,2');
  });
  g.append('rect').attr('x', 951).attr('y', 24.3).attr('width', 411.5).attr('height', 216.4).attr('fill', 'none').attr('stroke', '#999');
  g.append('line').attr('x1', 951).attr('x2', 1362.5).attr('y1', 24.3).attr('y2', 24.3).attr('stroke', '#999').attr('stroke-width', 2);
  g.append('line').attr('x1', 951).attr('x2', 1362.5).attr('y1', 240.7).attr('y2', 240.7).attr('stroke', '#999').attr('stroke-width', 2);

  var bx = g.append('g').attr('transform', 'translate(0,240.7)')
    .call(d3.axisBottom(x).tickValues(d3.range(-7, -1)).tickFormat(d3.format('d')).tickSize(3));
  bx.select('.domain').remove();
  styleAxis(bx, 11, '#222');
  var ly = g.append('g').attr('transform', 'translate(951,0)')
    .call(d3.axisLeft(y).tickValues([11.1, 11.2, 11.3, 11.4, 11.5]).tickFormat(d3.format('.1f')).tickSize(3));
  ly.select('.domain').remove();
  styleAxis(ly, 11, '#222');
  ly.selectAll('text').attr('transform', 'rotate(-90)').attr('x', 0).attr('y', -9).attr('dy', 0).attr('text-anchor', 'middle');
  cvTopAt.forEach((l, i) => txt(g, x(l), 19, cvTopN[i], 11, {anchor: 'middle', fill: '#222'}));
  txt(g, 919, 132, 'Partial Likelihood Deviance', 9, {anchor: 'middle', rotate: -90, fill: '#222'})
    .attr('textLength', 85).attr('lengthAdjust', 'spacingAndGlyphs');
  txt(g, 1175.5, 259, 'Log(\u03bb)', 11.5, {anchor: 'middle', fill: '#222'});

  // coefficient paths
  var x2 = d3.scaleLinear().domain([-7, -2]).range([996.7, 1359.7]);
  var y2 = d3.scaleLinear().domain([-.2, .2]).range([484.4, 309.3]);
  var line = d3.line().x(d => x2(d[0])).y(d => y2(d[1])).curve(d3.curveMonotoneX);
  bundleVals.forEach((vals, i) => {
    g.append('path').attr('d', line(bundleLam.map((l, k) => [l, vals[k]])))
      .attr('fill', 'none').attr('stroke', rPalette[(i * 5 + 1) % 8]).attr('stroke-width', .7).attr('stroke-opacity', .6);
  });
  g.append('path').attr('d', line(bigPathLam.map((l, k) => [l, bigPathVal[k]]))).attr('fill', 'none').attr('stroke', '#555').attr('stroke-width', 1);
  g.append('path').attr('d', line(negPathLam.map((l, k) => [l, negPathVal[k]]))).attr('fill', 'none').attr('stroke', '#e37ad6').attr('stroke-width', 1);
  g.append('rect').attr('x', 953).attr('y', 281.3).attr('width', 406.7).attr('height', 216.7).attr('fill', 'none').attr('stroke', '#999');
  g.append('line').attr('x1', 953).attr('x2', 1359.7).attr('y1', 281.3).attr('y2', 281.3).attr('stroke', '#999').attr('stroke-width', 2);
  txt(g, 957, 290, '1', 4, {fill: '#333'});
  txt(g, 956, 490, '12', 4, {fill: '#333'});
  var bx2 = g.append('g').attr('transform', 'translate(0,498)')
    .call(d3.axisBottom(x2).tickValues(d3.range(-7, -1)).tickFormat(d3.format('d')).tickSize(3));
  bx2.select('.domain').remove();
  styleAxis(bx2, 10.5, '#222');
  var ly2 = g.append('g').attr('transform', 'translate(953,0)')
    .call(d3.axisLeft(y2).tickValues([-.2, -.1, 0, .1, .2]).tickFormat(d3.format('.1f')).tickSize(3));
  ly2.select('.domain').remove();
  styleAxis(ly2, 10.5, '#222');
  ly2.selectAll('text').attr('transform', 'rotate(-90)').attr('x', 0).attr('y', -9).attr('dy', 0).attr('text-anchor', 'middle');
  pathTopAt.forEach((l, i) => txt(g, x2(l), 275.5, pathTopN[i], 10.5, {anchor: 'middle', fill: '#222'}));
  txt(g, 916, 390, 'Coefficients', 9.5, {anchor: 'middle', rotate: -90, fill: '#222'})
    .attr('textLength', 36).attr('lengthAdjust', 'spacingAndGlyphs');
  txt(g, 1161.8, 515.5, 'Log Lambda', 10, {anchor: 'middle', fill: '#222'});
})();

// --- D: coefficient lollipops ---
(function () {
  var g = svg.append('g');
  var x = d3.scaleLinear().domain([-.3, .2]).range([1502.1, 1910.9]);
  var y = d3.scalePoint().domain(coefGenes).range([23, 461.7]);
  d3.range(-.3, .21, .05).forEach((v, i) => {
    g.append('line').attr('x1', x(v)).attr('x2', x(v)).attr('y1', 8.8).attr('y2', 476)
      .attr('stroke', i % 2 ? '#f3f3f3' : '#e8e8e8').attr('stroke-width', i % 2 ? 1 : 1.5);
  });
  coefGenes.forEach(c => {
    g.append('line').attr('x1', 1490.8).attr('x2', 1924).attr('y1', y(c)).attr('y2', y(c)).attr('stroke', '#ebebeb').attr('stroke-width', 2);
  });
  g.append('line').attr('x1', x(0)).attr('x2', x(0)).attr('y1', 8.8).attr('y2', 476).attr('stroke', '#777');
  g.selectAll('.stem').data(coefGenes).enter().append('line')
    .attr('x1', x(0)).attr('x2', (d, i) => x(coefVals[i]))
    .attr('y1', d => y(d)).attr('y2', d => y(d))
    .attr('stroke', '#808080').attr('stroke-width', 1.8);
  g.selectAll('.dot').data(coefGenes).enter().append('circle')
    .attr('cx', (d, i) => x(coefVals[i])).attr('cy', d => y(d)).attr('r', 8.5).attr('fill', '#3b4992');
  g.append('rect').attr('x', 1490.8).attr('y', 8.8).attr('width', 433.2).attr('height', 467.2).attr('fill', 'none').attr('stroke', '#333');
  g.append('line').attr('x1', 1490.8).attr('x2', 1924).attr('y1', 8.8).attr('y2', 8.8).attr('stroke', '#111').attr('stroke-width', 2);
  g.append('line').attr('x1', 1490.8).attr('x2', 1924).attr('y1', 476).attr('y2', 476).attr('stroke', '#111').attr('stroke-width', 2);
  var ly = g.append('g').attr('transform', 'translate(1490.8,0)')
    .call(d3.axisLeft(y).tickSize(4).tickPadding(7));
  ly.select('.domain').remove();
  styleAxis(ly, 14, '#111');
  var bx = g.append('g').attr('transform', 'translate(0,476)')
    .call(d3.axisBottom(x).tickValues([-.3, -.2, -.1, 0, .1, .2]).tickFormat(d3.format('.1f')).tickSize(4).tickPadding(6));
  bx.select('.domain').remove();
  styleAxis(bx, 14, '#111');
  txt(g, 1707.8, 514, 'coefficient', 16, {anchor: 'middle', fill: '#111'});
})();

// --- E-J: Kaplan-Meier panels ---
var KM_RED = '#f8766d', KM_TEAL = '#00bfc4';
var KM_RED_LINE = '#f6665f', KM_TEAL_LINE = '#00b6bd';
var PLUS = 'M-3.2,0H3.2M0,-3.2V3.2';

function kmCurve(g, x, y, t, s, lo, hi, cens, color, lineColor) {
  var rows = t.map((v, i) => ({t: v, s: s[i], lo: lo[i], hi: hi[i]}));
  g.append('path')
    .attr('d', d3.area().x(d => x(d.t)).y0(d => y(d.lo)).y1(d => y(d.hi)).curve(d3.curveStepAfter)(rows))
    .attr('fill', color).attr('fill-opacity', .3);
  g.append('path')
    .attr('d', d3.line().x(d => x(d.t)).y(d => y(d.s)).curve(d3.curveStepAfter)(rows))
    .attr('fill', 'none').attr('stroke', lineColor).attr('stroke-width', 2);
  g.selectAll('.cens').data(cens).enter().append('path')
    .attr('d', PLUS)
    .attr('transform', d => {
      var k = Math.max(0, d3.bisectRight(t, d) - 1);
      return `translate(${x(d)},${y(s[k])})`;
    })
    .attr('fill', 'none').attr('stroke', lineColor).attr('stroke-width', 1);
}

function kmPanel(cfg) {
  var g = svg.append('g');
  var y1 = cfg.y1;
  var x = d3.scaleLinear().domain([0, d3.max(cfg.ticks)]).range([cfg.x0, cfg.xEnd]);
  var y = d3.scaleLinear().domain([0, 1]).range([y1 + 282, y1]);

  kmCurve(g, x, y, cfg.highT, cfg.highS, cfg.highLo, cfg.highHi, cfg.highC, KM_RED, KM_RED_LINE);
  kmCurve(g, x, y, cfg.lowT, cfg.lowS, cfg.lowLo, cfg.lowHi, cfg.lowC, KM_TEAL, KM_TEAL_LINE);

  // axes
  g.append('line').attr('x1', cfg.left).attr('x2', cfg.left).attr('y1', y1 - 14).attr('y2', y1 + 296).attr('stroke', '#111');
  g.append('line').attr('x1', cfg.left).attr('x2', cfg.right).attr('y1', y1 + 296).attr('y2', y1 + 296).attr('stroke', '#222').attr('stroke-width', 1.6);
  var ly = g.append('g').attr('transform', `translate(${cfg.left},0)`)
    .call(d3.axisLeft(y).tickValues(survTicks).tickFormat(d3.format('.2f')).tickSize(2).tickPadding(2));
  ly.select('.domain').remove();
  styleAxis(ly, 11, '#111');
  var bx = g.append('g').attr('transform', `translate(0,${y1 + 296})`)
    .call(d3.axisBottom(x).tickValues(cfg.ticks).tickFormat(d3.format('d')).tickSize(2).tickPadding(3));
  bx.select('.domain').remove();
  styleAxis(bx, 11.5, '#111');
  var mid = (cfg.left + cfg.right) / 2;
  txt(g, mid + 5, y1 + 319, 'Time(years)', 12.5, {anchor: 'middle'});
  txt(g, cfg.left + cfg.yLabelDx, y1 + cfg.yLabelDy, 'Overall survival', 12.3, {anchor: 'middle', rotate: -90, fill: '#111'});

  // annotation text and legend
  txt(g, cfg.textX, y1 + cfg.lrDy, 'Log\u2212rank', 14.5);
  txt(g, cfg.textX, y1 + cfg.pDy, cfg.p, 14.5);
  txt(g, cfg.nameX, y1 + 225, cfg.name, 19.5, {weight: 'bold'});
  [[KM_RED, KM_RED_LINE, 'riskScore=high', 255.3], [KM_TEAL, KM_TEAL_LINE, 'riskScore=low', 278.6]].forEach(l => {
    g.append('rect').attr('x', cfg.swatchX).attr('y', y1 + l[3] - 7.5).attr('width', 13).attr('height', 15)
      .attr('fill', l[0]).attr('fill-opacity', .3);
    g.append('path').attr('d', PLUS)
      .attr('transform', `translate(${cfg.swatchX + 6.5},${y1 + l[3]})`).attr('fill', 'none').attr('stroke', l[1]);
    g.append('line').attr('x1', cfg.swatchX).attr('x2', cfg.swatchX + 13).attr('y1', y1 + l[3]).attr('y2', y1 + l[3]).attr('stroke', l[1]).attr('stroke-width', 1.6);
    txt(g, cfg.swatchX + 18, y1 + l[3], l[2], 17.5);
  });

  // risk table
  txt(g, cfg.left, y1 + 341, 'Number at risk', 14.4);
  g.append('line').attr('x1', cfg.left).attr('x2', cfg.left).attr('y1', y1 + 355).attr('y2', y1 + 424.5).attr('stroke', '#111');
  g.append('line').attr('x1', cfg.left).attr('x2', cfg.right).attr('y1', y1 + 424.5).attr('y2', y1 + 424.5).attr('stroke', '#222').attr('stroke-width', 1.6);
  var ry = d3.scalePoint().domain(['high riskScore', 'low riskScore']).range([y1 + 374, y1 + 406]);
  var ra = g.append('g').attr('transform', `translate(${cfg.left},0)`)
    .call(d3.axisLeft(ry).tickSize(2).tickPadding(2));
  ra.select('.domain').remove();
  styleAxis(ra, 10.8, '#111');
  ra.selectAll('text').attr('fill', (d, i) => i ? KM_TEAL : KM_RED);
  cfg.ticks.forEach((tk, i) => {
    txt(g, x(tk), ry('high riskScore'), cfg.riskHigh[i], 12.5, {anchor: 'middle'});
    txt(g, x(tk), ry('low riskScore'), cfg.riskLow[i], 12.5, {anchor: 'middle'});
  });
  var rb = g.append('g').attr('transform', `translate(0,${y1 + 424.5})`)
    .call(d3.axisBottom(x).tickValues(cfg.ticks).tickFormat(d3.format('d')).tickSize(2).tickPadding(3));
  rb.select('.domain').remove();
  styleAxis(rb, 11.5, '#111');
  txt(g, mid + 5, y1 + 447.5, 'Time(years)', 12.5, {anchor: 'middle'});
}

kmPanel({name: 'TCGA', p: 'p < 0.0001', left: 1013.3, right: 1418, x0: 1031.5, xEnd: 1409.5, y1: 533.3, ticks: [0,5,10,15],
  yLabelDx: -49.5, yLabelDy: 120.7, lrDy: 167.4, pDy: 199.4, textX: 1019.8, nameX: 1018.5, swatchX: 1018.5,
  highT: eHighT, highS: eHighS, highLo: eHighLo, highHi: eHighHi, highC: eHighC,
  lowT: eLowT, lowS: eLowS, lowLo: eLowLo, lowHi: eLowHi, lowC: eLowC, riskHigh: eRiskHigh, riskLow: eRiskLow});
kmPanel({name: 'GSE14764', p: 'p = 0.012', left: 1516.2, right: 1930.7, x0: 1535, xEnd: 1911.8, y1: 530.7, ticks: [0,1,2,3,4,5,6],
  yLabelDx: -36.4, yLabelDy: 142, lrDy: 172.6, pDy: 195.3, textX: 1528, nameX: 1523.4, swatchX: 1522,
  highT: fHighT, highS: fHighS, highLo: fHighLo, highHi: fHighHi, highC: fHighC,
  lowT: fLowT, lowS: fLowS, lowLo: fLowLo, lowHi: fLowHi, lowC: fLowC, riskHigh: fRiskHigh, riskLow: fRiskLow});
kmPanel({name: 'GSE26193', p: 'p = 0.0036', left: 1008, right: 1422.5, x0: 1027, xEnd: 1403.6, y1: 1001, ticks: [0,3,6,9,12],
  yLabelDx: -41, yLabelDy: 140, lrDy: 168.3, pDy: 200.3, textX: 1015.2, nameX: 1015.2, swatchX: 1014,
  highT: gHighT, highS: gHighS, highLo: gHighLo, highHi: gHighHi, highC: gHighC,
  lowT: gLowT, lowS: gLowS, lowLo: gLowLo, lowHi: gLowHi, lowC: gLowC, riskHigh: gRiskHigh, riskLow: gRiskLow});
kmPanel({name: 'GSE26712', p: 'p = 0.0024', left: 1524, right: 1938.5, x0: 1542.9, xEnd: 1920.2, y1: 1001, ticks: [0,5,10,15],
  yLabelDx: -38, yLabelDy: 140, lrDy: 172.7, pDy: 195.7, textX: 1536.4, nameX: 1531.8, swatchX: 1530,
  highT: hHighT, highS: hHighS, highLo: hHighLo, highHi: hHighHi, highC: hHighC,
  lowT: hLowT, lowS: hLowS, lowLo: hLowLo, lowHi: hLowHi, lowC: hLowC, riskHigh: hRiskHigh, riskLow: hRiskLow});
kmPanel({name: 'GSE63385', p: 'p = 0.006', left: 1018, right: 1430, x0: 1037, xEnd: 1414.2, y1: 1477, ticks: [0,3,6,9,12],
  yLabelDx: -38, yLabelDy: 142, lrDy: 173, pDy: 195.7, textX: 1030.2, nameX: 1025.6, swatchX: 1024,
  highT: iHighT, highS: iHighS, highLo: iHighLo, highHi: iHighHi, highC: iHighC,
  lowT: iLowT, lowS: iLowS, lowLo: iLowLo, lowHi: iLowHi, lowC: iLowC, riskHigh: iRiskHigh, riskLow: iRiskLow});
kmPanel({name: 'GSE140082', p: 'p = 0.00015', left: 1526.6, right: 1941, x0: 1545.5, xEnd: 1922, y1: 1477, ticks: [0,1,2,3,4],
  yLabelDx: -36.6, yLabelDy: 142, lrDy: 173, pDy: 195.7, textX: 1538, nameX: 1534, swatchX: 1532.6,
  highT: jHighT, highS: jHighS, highLo: jHighLo, highHi: jHighHi, highC: jHighC,
  lowT: jLowT, lowS: jLowS, lowLo: jLowLo, lowHi: jLowHi, lowC: jLowC, riskHigh: jRiskHigh, riskLow: jRiskLow});

// --- K-P: tSNE ---
function tsnePanel(cfg) {
  var g = svg.append('g');
  var x = d3.scaleLinear().domain(cfg.xDom).range([cfg.box[0], cfg.box[1]]);
  var y = d3.scaleLinear().domain(cfg.yDom).range([cfg.box[3], cfg.box[2]]);
  g.append('rect').attr('x', cfg.box[0]).attr('y', cfg.box[2]).attr('width', cfg.box[1] - cfg.box[0]).attr('height', cfg.box[3] - cfg.box[2])
    .attr('fill', 'none').attr('stroke', '#888');
  g.append('line').attr('x1', cfg.box[0]).attr('x2', cfg.box[1]).attr('y1', cfg.box[3]).attr('y2', cfg.box[3]).attr('stroke', '#999').attr('stroke-width', 2);
  g.selectAll('.hi').data(cfg.high).enter().append('circle')
    .attr('cx', d => x(d[0])).attr('cy', d => y(d[1])).attr('r', 2.8).attr('fill', '#f00');
  g.selectAll('.lo').data(cfg.low).enter().append('circle')
    .attr('cx', d => x(d[0])).attr('cy', d => y(d[1])).attr('r', 2.8).attr('fill', '#00f');
  var bx = g.append('g').attr('transform', `translate(0,${cfg.box[3]})`)
    .call(d3.axisBottom(x).tickValues(cfg.xTicks).tickFormat(d3.format('d')).tickSize(2).tickPadding(3));
  bx.select('.domain').remove();
  styleAxis(bx, 10.5, '#444');
  var ly = g.append('g').attr('transform', `translate(${cfg.box[0]},0)`)
    .call(d3.axisLeft(y).tickValues(cfg.yTicks).tickFormat(d3.format('d')).tickSize(2).tickPadding(2));
  ly.select('.domain').remove();
  styleAxis(ly, 10.5, '#444');
  txt(g, cfg.xLab[0], cfg.xLab[1], 'tSNE1', 18, {anchor: 'middle'});
  txt(g, cfg.yLab[0], cfg.yLab[1], 'tSNE2', 18, {anchor: 'middle', rotate: -90});
  // legend
  g.append('circle').attr('cx', cfg.leg[0]).attr('cy', cfg.leg[1]).attr('r', 5).attr('fill', '#f00');
  txt(g, cfg.leg[0] + 7.5, cfg.leg[1], 'High Risk', 10.2);
  g.append('circle').attr('cx', cfg.leg[0]).attr('cy', cfg.leg[1] + 20).attr('r', 5).attr('fill', '#00f');
  txt(g, cfg.leg[0] + 7.5, cfg.leg[1] + 20, 'Low Risk', 10.2);
  txt(g, cfg.title[0], cfg.title[1], cfg.name, 28, {anchor: 'end', weight: 'bold', base: 'auto'});
}

tsnePanel({name: 'TCGA', box: [831.7, 1129.7, 1964.3, 2257.7], xDom: [-32.1, 27.3], yDom: [-26.9, 26.9],
  xTicks: [-30,-20,-10,0,10,20], yTicks: [-20,-10,0,10,20], xLab: [988, 2282], yLab: [805, 2110], leg: [841.5, 1977.7], title: [1124, 1990.7], high: kHigh, low: kLow});
tsnePanel({name: 'GSE14764', box: [1225.3, 1522.6, 1962.7, 2256], xDom: [-18.55, 19.6], yDom: [-29.5, 27],
  xTicks: [-10,0,10], yTicks: [-20,-10,0,10,20], xLab: [1381, 2280.7], yLab: [1199, 2108], leg: [1235, 1975.7], title: [1520, 1990], high: lHigh, low: lLow});
tsnePanel({name: 'GSE26193', box: [1631, 1928.2, 1962.7, 2256], xDom: [-16.1, 18.1], yDom: [-14.3, 12.6],
  xTicks: [-10,0,10], yTicks: [-10,-5,0,5,10], xLab: [1787.5, 2280.7], yLab: [1603.8, 2108], leg: [1640.7, 1975.7], title: [1927.4, 1990], high: mHigh, low: mLow});
tsnePanel({name: 'GSE26712', box: [838.5, 1138, 2302.3, 2598.3], xDom: [-19.4, 17.6], yDom: [-20.05, 24.35],
  xTicks: [-10,0,10], yTicks: [-20,-10,0,10,20], xLab: [995.8, 2622.7], yLab: [812.9, 2448.7], leg: [847.5, 2315.7], title: [1136.5, 2325], high: nHigh, low: nLow});
tsnePanel({name: 'GSE63885', box: [1229, 1526.3, 2309, 2603], xDom: [-17.4, 22.8], yDom: [-22.6, 20.6],
  xTicks: [-10,0,10,20], yTicks: [-20,-10,0,10,20], xLab: [1384.8, 2626.7], yLab: [1202.7, 2455], leg: [1238.8, 2322.3], title: [1549, 2330], high: oHigh, low: oLow});
tsnePanel({name: 'GSE140082', box: [1638.5, 1936.5, 2312, 2605.3], xDom: [-19.8, 21.5], yDom: [-26.3, 29],
  xTicks: [-10,0,10,20], yTicks: [-20,-10,0,10,20], xLab: [1795, 2630], yLab: [1611.4, 2458], leg: [1648, 2325], title: [1867, 2333], high: pHigh, low: pLow});
</script>
</body>
</html>
